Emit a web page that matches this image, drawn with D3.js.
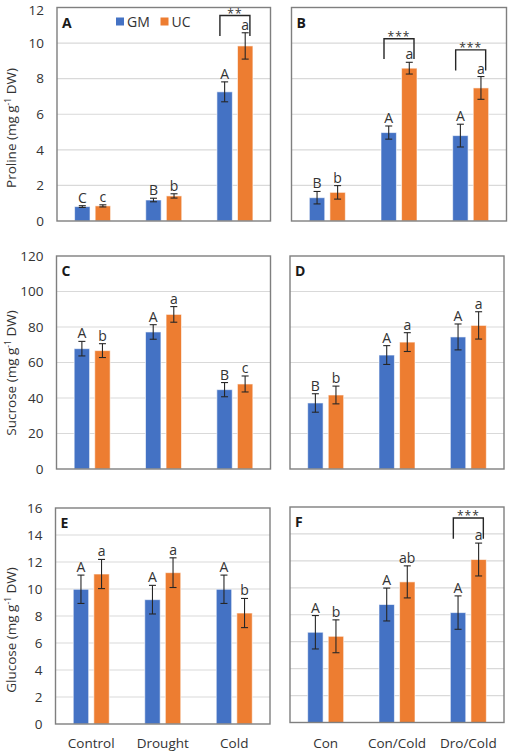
<!DOCTYPE html>
<html>
<head>
<meta charset="utf-8">
<script src="https://cdn.jsdelivr.net/npm/d3@7"></script>
<style>
  html, body { margin: 0; padding: 0; background: #fff; }
  svg { display: block; font-family: "Open Sans", "Noto Sans", sans-serif; }
</style>
</head>
<body>
<svg id="chart" width="510" height="754"></svg>
<script>
// ---------- DATA ----------
const series = ["GM", "UC"];
const catsLeft = ["Control", "Drought", "Cold"];
const catsRight = ["Con", "Con/Cold", "Dro/Cold"];

// Proline
const prolineA_GM = [0.81, 1.18, 7.26];
const prolineA_UC = [0.85, 1.41, 9.84];
const prolineA_GM_err = [0.05, 0.10, 0.56];
const prolineA_UC_err = [0.06, 0.12, 0.74];
const prolineA_GM_lab = ["C", "B", "A"];
const prolineA_UC_lab = ["c", "b", "a"];

const prolineB_GM = [1.31, 4.97, 4.80];
const prolineB_UC = [1.61, 8.59, 7.48];
const prolineB_GM_err = [0.35, 0.37, 0.64];
const prolineB_UC_err = [0.38, 0.33, 0.64];
const prolineB_GM_lab = ["B", "A", "A"];
const prolineB_UC_lab = ["b", "a", "a"];

// Sucrose
const sucroseC_GM = [67.8, 77.2, 44.7];
const sucroseC_UC = [66.7, 87.1, 47.9];
const sucroseC_GM_err = [4.1, 4.1, 4.0];
const sucroseC_UC_err = [3.9, 4.4, 4.5];
const sucroseC_GM_lab = ["A", "A", "B"];
const sucroseC_UC_lab = ["b", "a", "c"];

const sucroseD_GM = [37.2, 64.2, 74.4];
const sucroseD_UC = [41.7, 71.5, 80.9];
const sucroseD_GM_err = [5.2, 5.3, 7.3];
const sucroseD_UC_err = [5.0, 5.3, 7.7];
const sucroseD_GM_lab = ["B", "A", "A"];
const sucroseD_UC_lab = ["b", "a", "a"];

// Glucose
const glucoseE_GM = [9.98, 9.21, 9.98];
const glucoseE_UC = [11.11, 11.21, 8.22];
const glucoseE_GM_err = [1.05, 1.06, 1.05];
const glucoseE_UC_err = [1.08, 1.10, 1.08];
const glucoseE_GM_lab = ["A", "A", "A"];
const glucoseE_UC_lab = ["a", "a", "b"];

const glucoseF_GM = [6.70, 8.76, 8.16];
const glucoseF_UC = [6.40, 10.44, 12.10];
const glucoseF_GM_err = [1.24, 1.22, 1.24];
const glucoseF_UC_err = [1.22, 1.19, 1.22];
const glucoseF_GM_lab = ["A", "A", "A"];
const glucoseF_UC_lab = ["b", "ab", "a"];

// significance brackets: [category, top value, leg bottom value, stars]
const sigA = [["Cold", 11.55, 10.4, "**"]];
const sigB = [["Con/Cold", 10.24, 9.1, "***"], ["Dro/Cold", 9.62, 8.46, "***"]];
const sigF = [["Dro/Cold", 15.18, 13.64, "***"]];

const prolineTicks = [0, 2, 4, 6, 8, 10, 12];
const sucroseTicks = [0, 20, 40, 60, 80, 100, 120];
const glucoseTicks = [0, 2, 4, 6, 8, 10, 12, 14, 16];

// ---------- STYLE / LAYOUT ----------
const colors = { GM: "#4472C4", UC: "#ED7D31" };
const textColor = "#333333";

const panels = [
  { id: "A", x0: 57, x1: 270.5, y0: 7.5, y1: 221, cats: catsLeft, max: 12, ticks: prolineTicks, showTicks: true,
    gm: prolineA_GM, uc: prolineA_UC, gmE: prolineA_GM_err, ucE: prolineA_UC_err, gmL: prolineA_GM_lab, ucL: prolineA_UC_lab,
    sig: sigA, legend: true, title: "Proline", titleCy: 128, topNudge: 2.5 },
  { id: "B", x0: 291.5, x1: 506.5, y0: 7.5, y1: 221, cats: catsRight, max: 12, ticks: prolineTicks, showTicks: false,
    gm: prolineB_GM, uc: prolineB_UC, gmE: prolineB_GM_err, ucE: prolineB_UC_err, gmL: prolineB_GM_lab, ucL: prolineB_UC_lab,
    sig: sigB },
  { id: "C", x0: 56.5, x1: 270.5, y0: 256, y1: 469, cats: catsLeft, max: 120, ticks: sucroseTicks, showTicks: true,
    gm: sucroseC_GM, uc: sucroseC_UC, gmE: sucroseC_GM_err, ucE: sucroseC_UC_err, gmL: sucroseC_GM_lab, ucL: sucroseC_UC_lab,
    sig: [], title: "Sucrose", titleCy: 373 },
  { id: "D", x0: 290, x1: 504, y0: 256, y1: 469, cats: catsRight, max: 120, ticks: sucroseTicks, showTicks: false,
    gm: sucroseD_GM, uc: sucroseD_UC, gmE: sucroseD_GM_err, ucE: sucroseD_UC_err, gmL: sucroseD_GM_lab, ucL: sucroseD_UC_lab,
    sig: [] },
  { id: "E", x0: 55.5, x1: 270, y0: 508, y1: 724, cats: catsLeft, max: 16, ticks: glucoseTicks, showTicks: true,
    gm: glucoseE_GM, uc: glucoseE_UC, gmE: glucoseE_GM_err, ucE: glucoseE_UC_err, gmL: glucoseE_GM_lab, ucL: glucoseE_UC_lab,
    sig: [], title: "Glucose", titleCy: 630, xLabels: true },
  { id: "F", x0: 290, x1: 504, y0: 507, y1: 722.5, cats: catsRight, max: 16, ticks: glucoseTicks, showTicks: false,
    gm: glucoseF_GM, uc: glucoseF_UC, gmE: glucoseF_GM_err, ucE: glucoseF_UC_err, gmL: glucoseF_GM_lab, ucL: glucoseF_UC_lab,
    sig: sigF, xLabels: true }
];

const svg = d3.select("#chart");

panels.forEach(p => {
  const g = svg.append("g");
  const x = d3.scaleBand().domain(p.cats).range([p.x0, p.x1]).padding(0);
  const bw = x.bandwidth();
  const xs = d3.scaleBand().domain(series).range([bw / 2 - 18, bw / 2 + 18]).paddingInner(0.25);
  const y = d3.scaleLinear().domain([0, p.max]).range([p.y1, p.y0]);

  // gridlines
  g.append("g").selectAll("line").data(p.ticks.filter(t => t > 0 && t < p.max)).join("line")
    .attr("x1", p.x0).attr("x2", p.x1)
    .attr("y1", d => y(d)).attr("y2", d => y(d))
    .attr("stroke", "#d9d9d9").attr("stroke-width", 1.2);

  // y tick labels via axis
  if (p.showTicks) {
    const ax = g.append("g").attr("transform", `translate(${p.x0 - 13},0)`)
      .call(d3.axisLeft(y).tickValues(p.ticks).tickSize(0).tickPadding(0));
    ax.select(".domain").remove();
    ax.selectAll("text").attr("font-size", 13.5).attr("fill", textColor)
      .attr("font-family", '"Open Sans", sans-serif');
    if (p.topNudge) {
      ax.selectAll(".tick").filter(d => d === p.max).select("text")
        .attr("transform", `translate(0,${p.topNudge})`);
    }
  }

  // bars
  const rows = p.cats.map((c, i) => [
    { cat: c, s: "GM", v: p.gm[i], e: p.gmE[i], l: p.gmL[i] },
    { cat: c, s: "UC", v: p.uc[i], e: p.ucE[i], l: p.ucL[i] }
  ]).flat();

  g.append("g").selectAll("rect").data(rows).join("rect")
    .attr("x", d => x(d.cat) + xs(d.s))
    .attr("width", xs.bandwidth())
    .attr("y", d => y(d.v))
    .attr("height", d => y(0) - y(d.v))
    .attr("fill", d => colors[d.s])
    .attr("stroke", "#ffffff").attr("stroke-opacity", 0.6).attr("stroke-width", 1);

  // error bars
  const eg = g.append("g").attr("stroke", "#262626").attr("stroke-width", 1.1);
  rows.forEach(d => {
    const cx = x(d.cat) + xs(d.s) + xs.bandwidth() / 2;
    eg.append("line").attr("x1", cx).attr("x2", cx).attr("y1", y(d.v + d.e)).attr("y2", y(d.v - d.e));
    eg.append("line").attr("x1", cx - 3.5).attr("x2", cx + 3.5).attr("y1", y(d.v + d.e)).attr("y2", y(d.v + d.e));
    eg.append("line").attr("x1", cx - 3.5).attr("x2", cx + 3.5).attr("y1", y(d.v - d.e)).attr("y2", y(d.v - d.e));
  });

  // letters
  g.append("g").selectAll("text").data(rows).join("text")
    .attr("x", d => x(d.cat) + xs(d.s) + xs.bandwidth() / 2)
    .attr("y", d => y(d.v + d.e) - 3)
    .attr("text-anchor", "middle")
    .attr("font-size", 14).attr("fill", textColor)
    .text(d => d.l);

  // significance brackets
  p.sig.forEach(([cat, top, leg, stars]) => {
    const cx = x(cat) + bw / 2;
    g.append("path")
      .attr("d", `M${cx - 15},${y(leg)}V${y(top)}H${cx + 15}V${y(leg)}`)
      .attr("fill", "none").attr("stroke", "#262626").attr("stroke-width", 1.4);
    g.append("text").attr("x", cx).attr("y", y(top) + 2)
      .attr("text-anchor", "middle").attr("font-size", 12).attr("letter-spacing", 1)
      .attr("fill", textColor).text(stars);
  });

  // frame
  g.append("rect").attr("x", p.x0).attr("y", p.y0)
    .attr("width", p.x1 - p.x0).attr("height", p.y1 - p.y0)
    .attr("fill", "none").attr("stroke", "#7f7f7f").attr("stroke-width", 1.4);

  // panel letter
  g.append("text").attr("x", p.x0 + 5).attr("y", p.y0 + 20)
    .attr("font-size", 14).attr("font-weight", "bold").attr("fill", "#1a1a1a").text(p.id);

  // legend
  if (p.legend) {
    const lg = g.append("g");
    const items = [["GM", 116], ["UC", 160.5]];
    items.forEach(([s, lx]) => {
      lg.append("rect").attr("x", lx).attr("y", 17.5).attr("width", 8).attr("height", 8).attr("fill", colors[s]);
      lg.append("text").attr("x", lx + 11).attr("y", 26.5).attr("font-size", 14).attr("fill", textColor).text(s);
    });
  }

  // x labels
  if (p.xLabels) {
    g.append("g").selectAll("text").data(p.cats).join("text")
      .attr("x", d => x(d) + bw / 2).attr("y", 748)
      .attr("text-anchor", "middle").attr("font-size", 13.5).attr("fill", textColor)
      .text(d => d);
  }

  // y title
  if (p.title) {
    const t = g.append("text")
      .attr("transform", `translate(16,${p.titleCy}) rotate(-90)`)
      .attr("text-anchor", "middle").attr("font-size", 13.5).attr("fill", textColor);
    t.append("tspan").text(p.title + " (mg g");
    t.append("tspan").attr("font-size", 8.5).attr("dy", -5).text("-1");
    t.append("tspan").attr("dy", 5).text(" DW)");
  }
});
</script>
</body>
</html>
